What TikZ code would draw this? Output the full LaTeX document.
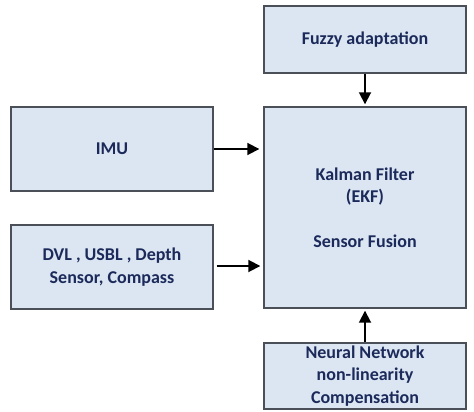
\documentclass[tikz,border=0pt]{standalone}
\usepackage{fontspec}
\setmainfont{Carlito}
\usetikzlibrary{arrows.meta}
\definecolor{boxfill}{HTML}{DCE6F2}
\definecolor{boxline}{HTML}{4A4F58}
\definecolor{txt}{HTML}{1B2A5A}
\tikzset{
  blk/.style={draw=boxline, line width=1.4pt, fill=boxfill, minimum width=202pt, inner sep=0pt,
    align=center, text=txt, font=\fontsize{18}{22.3}\selectfont\bfseries},
  conn/.style={line width=1.8pt, -{Triangle[length=12pt,width=12pt]}}
}
\begin{document}
\begin{tikzpicture}[x=1pt,y=-1pt]
\useasboundingbox (0,0) rectangle (474,412);
\node[blk, minimum height=67pt] (fuzzy) at (365,39.5) {Fuzzy adaptation};
\node[blk, minimum height=201pt] (kal) at (365,207.5) {Kalman Filter\\(EKF)\\[22.3pt]Sensor Fusion};
\node[blk, minimum height=84pt] (imu) at (112,149) {IMU};
\node[blk, minimum height=84pt] (dvl) at (112,267) {DVL , USBL , Depth\\Sensor, Compass};
\node[blk, minimum height=66pt] (nn) at (365,376) {Neural Network\\non-linearity\\Compensation};
\draw[conn, shorten >=4pt] (imu.east) -- (imu.east -| kal.west);
\draw[conn, shorten <=3pt, shorten >=3pt] ([yshift=1pt]dvl.east) -- ([yshift=1pt]dvl.east -| kal.west);
\draw[conn, shorten >=2pt] (fuzzy.south) -- (kal.north);
\draw[conn, shorten >=2pt] (nn.north) -- (kal.south);
\end{tikzpicture}
\end{document}
